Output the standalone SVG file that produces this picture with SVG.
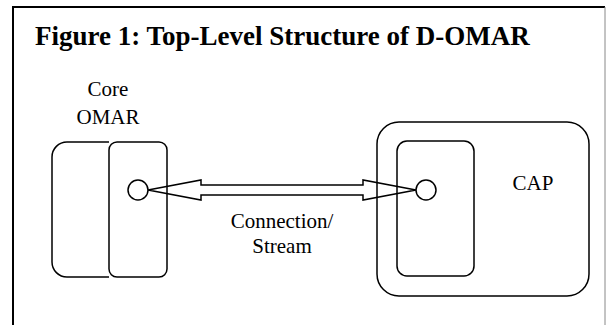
<svg xmlns="http://www.w3.org/2000/svg" width="608" height="325" viewBox="0 0 608 325">
  <style>
    .shape { fill: none; stroke: #000; stroke-width: 1.5; }
    .port { fill: #fff; stroke: #000; stroke-width: 1.5; }
    .lbl { font-family: "Liberation Serif", "Times New Roman", serif; font-size: 21px; fill: #000; text-anchor: middle; }
    .title { font-family: "Liberation Serif", "Times New Roman", serif; font-size: 27px; font-weight: bold; fill: #000; }
  </style>
  <rect width="608" height="325" fill="#fff"/>
  <!-- figure frame -->
  <g id="frame">
    <path d="M13 325 V7 H605" fill="none" stroke="#000" stroke-width="2"/>
    <path d="M605 7 V325" fill="none" stroke="#888" stroke-width="1"/>
  </g>
  <text class="title" x="35" y="45">Figure 1: Top-Level Structure of D-OMAR</text>

  <g id="core-omar">
    <path class="shape" d="M109 142 H67 A15 15 0 0 0 52 157 V262 A15 15 0 0 0 67 277 H109"/>
    <rect class="shape" x="109" y="142" width="58" height="135" rx="8"/>
    <text class="lbl" x="108" y="96">Core</text>
    <text class="lbl" x="108" y="124">OMAR</text>
  </g>

  <g id="cap">
    <rect class="shape" x="377" y="122" width="212" height="174" rx="22"/>
    <rect class="shape" x="397" y="141" width="77" height="135" rx="10"/>
    <text class="lbl" x="533" y="190">CAP</text>
  </g>

  <g id="connectors">
    <polygon class="shape" points="148,190 201,180 201,185 363,185 363,180 416,190 363,200 363,195 201,195 201,200"/>
    <text class="lbl" x="282" y="228">Connection/</text>
    <text class="lbl" x="282" y="253">Stream</text>
  </g>

  <g id="ports">
    <circle class="port" cx="138" cy="190" r="10"/>
    <circle class="port" cx="426" cy="190" r="10"/>
  </g>
</svg>
